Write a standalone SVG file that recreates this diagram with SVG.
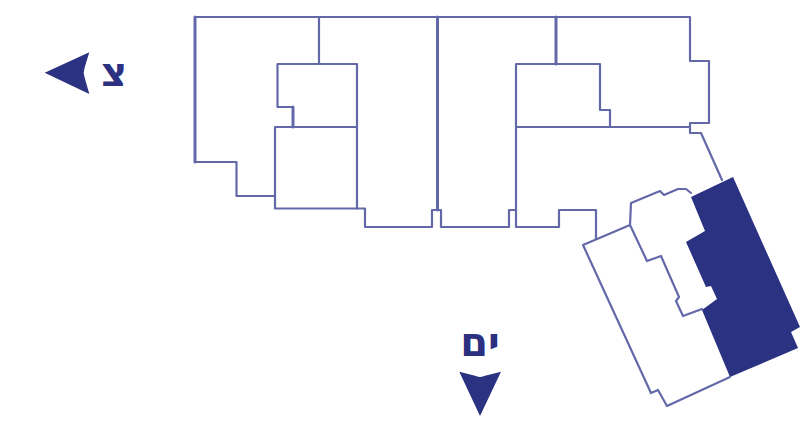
<svg xmlns="http://www.w3.org/2000/svg" width="810" height="427" viewBox="0 0 810 427">
<style>
.w{fill:none;stroke:#6469a8;stroke-width:2.2;stroke-linejoin:round;stroke-linecap:round}
.k{stroke-width:3}
.f{fill:#2b3081}
.t{fill:#2b3081;font-family:"DejaVu Sans","Liberation Sans",sans-serif;font-weight:700;font-size:40px;text-anchor:middle}
</style>
<defs><filter id="s" x="-5%" y="-5%" width="110%" height="110%"><feGaussianBlur stdDeviation="0.45"/></filter></defs>
<rect width="810" height="427" fill="#fff"/>
<g id="plan" filter="url(#s)">
<path class="f" d="M733 177L800 327L791 332L798 348L730 377L702 310L717 299L711 286L706 287L686 242L705 231L691 197Z"/>
<path class="w" d="M195 17H690V61H709V123H690V133H701L722 180"/>
<path class="w k" d="M195 17V162"/>
<path class="w" d="M195 162H236.500V196H275"/>
<path class="w" d="M275 127H357V208.500H275Z"/>
<path class="w k" d="M293 127V107"/>
<path class="w" d="M293 107H277.500V64H357V127"/>
<path class="w" d="M319 17V64"/>
<path class="w" d="M357 208.500H365V227H432V210H437.500H441V227H509V210H516"/>
<path class="w k" d="M437.500 17V210"/>
<path class="w" d="M516 127V227H559V210H596V239"/>
<path class="w" d="M516 127H690"/>
<path class="w" d="M516 127V64H600V110H610V127"/>
<path class="w k" d="M556 17V64"/>
<path class="w" d="M691 193L686 189H678L664 195L660 191L631 203L630 225L583 245L651 393L658 390L667 406L730 377"/>
<path class="w" d="M630 225L647 261L661 256L679 297L676 301L683 316L702 309"/>
<path class="f" d="M44.700 72.700L89.300 52.300L84.500 68Q83 72.700 84.500 77L89.300 94Z"/>
<path class="f" d="M459.300 371.700L476 376Q480 378 484 376L501 371.700L480 416Z"/>
</g>
<text class="t" x="114" y="86">צ</text>
<text class="t" x="480" y="356">ים</text>
</svg>
